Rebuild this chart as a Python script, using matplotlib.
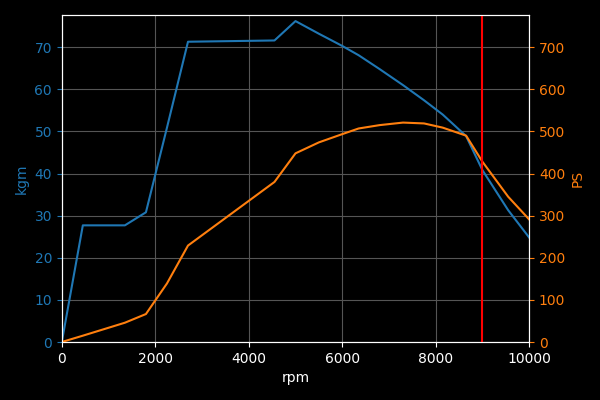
import matplotlib
matplotlib.use("Agg")
import matplotlib.pyplot as plt

# engine curve
rpm = [0, 450, 1350, 1800, 2250, 2700, 4550, 5000, 5500, 6000, 6350, 6800,
       7300, 7750, 8150, 8650, 9000, 9550, 10000]
kgm = [0, 27.7, 27.7, 30.8, 50.9, 71.3, 71.6, 76.2, 73.2, 70.3, 68.1, 64.8,
       61.0, 57.4, 54.0, 48.9, 40.8, 31.3, 24.8]
ps = [0, 15, 45.8, 66.4, 139, 229, 380, 448, 474, 493.6, 507, 515,
      521, 519, 509, 490, 428, 345, 291]
redline = 9000

plt.style.use("dark_background")
fig, ax1 = plt.subplots(figsize=(6, 4), dpi=100)
fig.subplots_adjust(left=0.103, right=0.882, top=0.962, bottom=0.145)

ax1.plot(rpm, kgm, color="tab:blue")
ax1.set_xlabel("rpm")
ax1.set_ylabel("kgm", color="tab:blue")
ax1.tick_params(axis="y", colors="tab:blue")
ax1.set_xlim(0, 10000)
ax1.set_ylim(0, 77.6)
ax1.grid(color="#555555", linewidth=0.8)

ax2 = ax1.twinx()
ax2.plot(rpm, ps, color="tab:orange")
ax2.set_ylabel("PS", color="tab:orange")
ax2.tick_params(axis="y", colors="tab:orange")
ax2.set_ylim(0, 776)

ax2.axvline(redline, color="red", linewidth=1.5)

for a in (ax1, ax2):
    for s in a.spines.values():
        s.set_color("white")

plt.savefig("out.png")
